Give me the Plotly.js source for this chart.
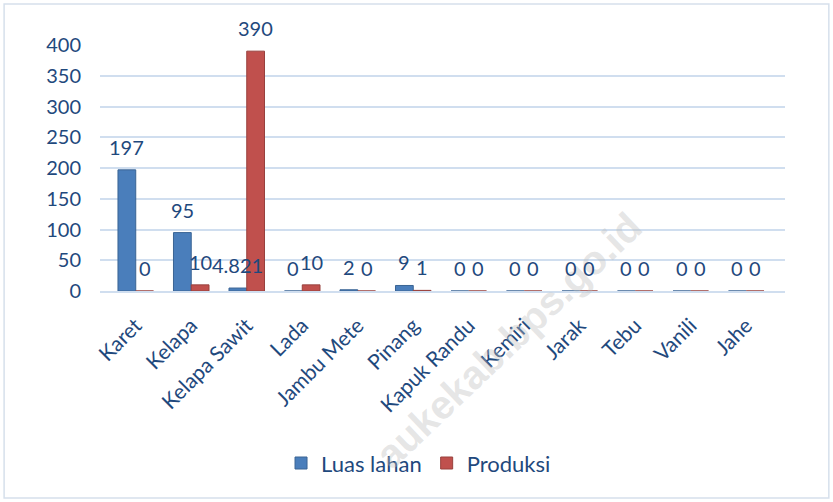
<!DOCTYPE html>
<html>
<head>
<meta charset="utf-8">
<script src="https://cdn.plot.ly/plotly-3.0.1.min.js"></script>
<style>
  html, body { margin: 0; padding: 0; background: #fff; }
  #chart { width: 833px; height: 502px; }
</style>
</head>
<body>
<div id="chart"></div>
<script>
const categories = ["Karet", "Kelapa", "Kelapa Sawit", "Lada", "Jambu Mete", "Pinang",
  "Kapuk Randu", "Kemiri", "Jarak", "Tebu", "Vanili", "Jahe"];
const luasLahan = [197, 95, 4.821, 0, 2, 9, 0, 0, 0, 0, 0, 0];
const produksi  = [0, 10, 390, 10, 0, 1, 0, 0, 0, 0, 0, 0];
const luasLabels = ["197", "95", "4.821", "0", "2", "9", "0", "0", "0", "0", "0", "0"];
const produksiLabels = ["0", "10", "390", "10", "0", "1", "0", "0", "0", "0", "0", "0"];
const yTicks = [0, 50, 100, 150, 200, 250, 300, 350, 400];

const textColor = "#1F497D";
const fontFam = "Lato, 'Open Sans', sans-serif";

const traces = [
  {
    type: "bar", name: "Luas lahan", x: categories, y: luasLahan,
    cliponaxis: false,
    marker: {color: "#4A7EBB", line: {color: "#3A6494", width: 1}}
  },
  {
    type: "bar", name: "Produksi", x: categories, y: produksi,
    cliponaxis: false,
    marker: {color: "#C0504D", line: {color: "#98403D", width: 1}}
  }
];

const labelAnns = [];
categories.forEach((c, i) => {
  labelAnns.push({x: c, y: luasLahan[i], xref: "x", yref: "y", text: luasLabels[i],
    showarrow: false, xanchor: "center", yanchor: "bottom", xshift: -9, yshift: 9,
    font: {size: 20, color: textColor, family: fontFam}});
  labelAnns.push({x: c, y: produksi[i], xref: "x", yref: "y", text: produksiLabels[i],
    showarrow: false, xanchor: "center", yanchor: "bottom", xshift: 9, yshift: 9,
    font: {size: 20, color: textColor, family: fontFam}});
});

const layout = {
  width: 833, height: 502,
  margin: {l: 100, r: 48, t: 45, b: 211},
  paper_bgcolor: "#ffffff", plot_bgcolor: "#ffffff",
  font: {family: fontFam, color: textColor, size: 20},
  barmode: "group", bargap: 0.36, bargroupgap: 0.0,
  showlegend: true,
  legend: {
    orientation: "h", x: 0.465, xanchor: "center", y: -0.70, yanchor: "middle",
    font: {size: 22, color: textColor, family: fontFam}, itemwidth: 30,
    traceorder: "normal"
  },
  xaxis: {
    type: "category", range: [-0.644, 11.698], tickangle: -45, showgrid: false, zeroline: false,
    showline: true, linecolor: "#D0DEEF", linewidth: 2,
    tickfont: {size: 21, color: textColor, family: fontFam},
    ticklabelstandoff: 12,
    ticks: ""
  },
  yaxis: {
    range: [0, 400], tickvals: yTicks, ticktext: yTicks.map(String),
    showgrid: true, gridcolor: "#D0DEEF", gridwidth: 2,
    zeroline: false, showline: false, ticks: "",
    ticklabelstandoff: 18,
    tickfont: {size: 20, color: textColor, family: fontFam}
  },
  shapes: [
    {type: "rect", xref: "paper", yref: "paper",
     x0: -0.140, x1: 1.064, y0: -0.841, y1: 1.167,
     line: {color: "#D6E0EC", width: 1.5}, fillcolor: "rgba(0,0,0,0)", layer: "below"}
  ],
  annotations: [
    {xref: "paper", yref: "paper", x: 0.597, y: -0.20, xanchor: "center", yanchor: "middle",
     text: "aukekab.bps.go.id",
     showarrow: false, textangle: -43.6,
     font: {size: 40, color: "rgba(190,190,190,0.4)", family: "'Liberation Sans', sans-serif", weight: "bold"}}
  ].concat(labelAnns)
};

Plotly.newPlot("chart", traces, layout, {displayModeBar: false, staticPlot: true});
</script>
</body>
</html>
